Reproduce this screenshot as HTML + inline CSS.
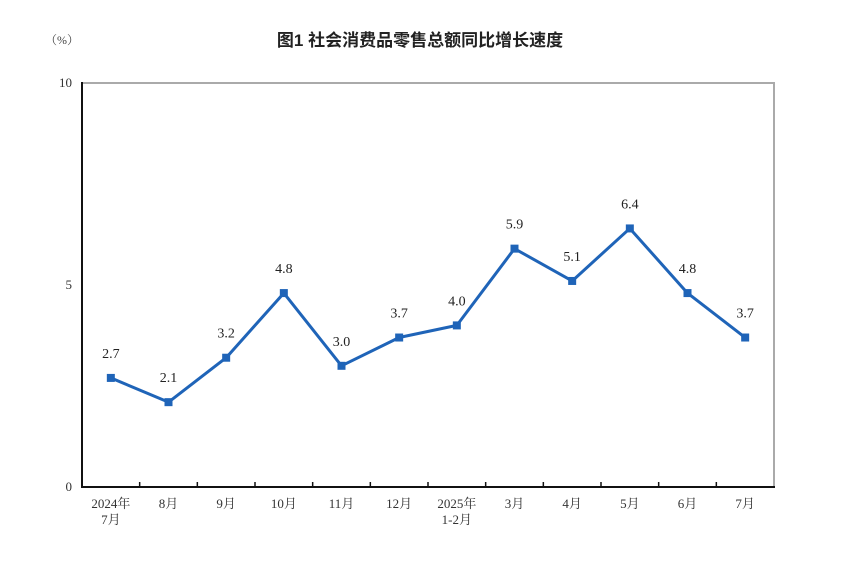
<!DOCTYPE html>
<html><head><meta charset="utf-8">
<style>
html,body{margin:0;padding:0;background:#fff;}
svg{display:block;font-family:"Liberation Serif","Noto Serif CJK SC",serif;}
</style></head>
<body>
<svg id="chart" width="865" height="562" viewBox="0 0 865 562">
<text x="420" y="46" text-anchor="middle" font-size="17" font-weight="bold" fill="#222" font-family="'Liberation Sans','Noto Sans CJK SC',sans-serif">图1  社会消费品零售总额同比增长速度</text>
<text x="62" y="44" text-anchor="middle" font-size="12" fill="#444">（%）</text>
<rect x="82" y="83" width="692" height="404" fill="none" stroke="#aaa" stroke-width="2"/>
<g id="axes"></g>
<g id="series"></g>
</svg>
<script>
const categories=[["2024年","7月"],["8月"],["9月"],["10月"],["11月"],["12月"],["2025年","1-2月"],["3月"],["4月"],["5月"],["6月"],["7月"]];
const values=[2.7,2.1,3.2,4.8,3.0,3.7,4.0,5.9,5.1,6.4,4.8,3.7];
const yTicks=[0,5,10];
const NS="http://www.w3.org/2000/svg";
const L=82,R=774,T=83,B=487,yMax=10;
const bw=(R-L)/categories.length;
const xs=i=>L+bw*(i+0.5);
const ys=v=>B-(v/yMax)*(B-T);
function mk(tag,attrs,parent){const e=document.createElementNS(NS,tag);for(const k in attrs)e.setAttribute(k,attrs[k]);parent.appendChild(e);return e;}
const ax=document.getElementById('axes'),se=document.getElementById('series');
let e=mk('line',{x1:L,y1:T-1,x2:L,y2:B,stroke:'#111','stroke-width':2},ax);


e=mk('line',{x1:L-1,y1:B,x2:R+1,y2:B,stroke:'#111','stroke-width':2},ax);


yTicks.forEach(t=>{
 const tx=mk('text',{x:L-10,y:ys(t)+4,'text-anchor':'end','font-size':13,fill:'#333'},ax);
 tx.textContent=t;
 
 
});
for(let i=1;i<categories.length;i++){
 const tk=mk('line',{x1:L+bw*i,y1:B,x2:L+bw*i,y2:B-5,stroke:'#111','stroke-width':1.5},ax);
 
 
}
categories.forEach((c,i)=>{
 c.forEach((s,j)=>{
  const tx=mk('text',{x:xs(i),y:508+j*16,'text-anchor':'middle','font-size':13,fill:'#333'},ax);
  tx.textContent=s;
  
  
 });
});
const pts=values.map((v,i)=>xs(i)+','+ys(v)).join(' ');
const pl=mk('polyline',{points:pts,fill:'none',stroke:'#1f64b8','stroke-width':3,'stroke-linejoin':'round'},se);


values.forEach((v,i)=>{
 const m=mk('rect',{x:xs(i)-4,y:ys(v)-4,width:8,height:8,fill:'#1f64b8'},se);
 
 
 const t=mk('text',{x:xs(i),y:ys(v)-20,'text-anchor':'middle','font-size':14,fill:'#222'},se);
 t.textContent=v.toFixed(1);
 
 
});
</script>
</body></html>
